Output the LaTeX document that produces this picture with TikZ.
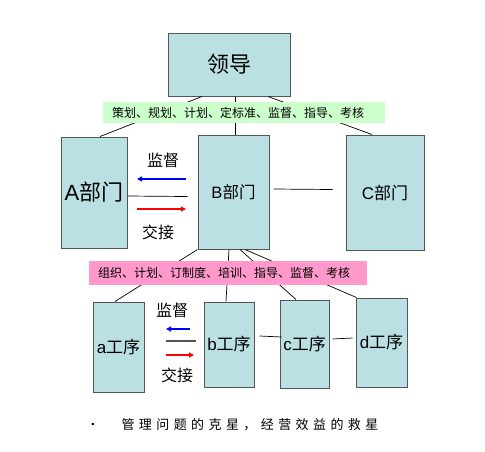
\documentclass[tikz,border=0pt]{standalone}
\usepackage{fontspec}
\setmainfont{Liberation Sans}
\newfontfamily\cjk{Noto Sans CJK SC}
\newfontfamily\cjkwide[LetterSpace=34]{Noto Sans CJK SC}
\usetikzlibrary{arrows.meta}
\definecolor{boxfill}{RGB}{187,224,227}
\definecolor{boxline}{RGB}{85,85,85}
\definecolor{greenband}{RGB}{204,255,204}
\definecolor{pinkband}{RGB}{255,153,204}
\newcommand{\fs}[1]{\fontsize{#1}{#1}\selectfont}

\begin{document}
\begin{tikzpicture}[x=1pt,y=-1pt,
  box/.style={draw=boxline,line width=1pt,fill=boxfill,inner sep=0pt},
  band/.style={inner sep=0pt,font=\cjk\fs{12}},
  link/.style={line width=0.7pt},
  flow/.style={line width=1.4pt,-{Triangle[length=5pt,width=5pt]}},
  tag/.style={font=\cjk\fs{16}}]
\useasboundingbox (0,0) rectangle (485,451);

% boxes
\node[box,minimum width=122pt,minimum height=63pt,font=\cjk\fs{22}] (lead) at (229,64.5) {领导};
\node[box,minimum width=66pt,minimum height=111pt,font=\fs{22}] (A) at (94,192.5) {A\cjk 部门};
\node[box,minimum width=71pt,minimum height=114pt,font=\fs{16.5}] (B) at (233.5,192) {B\cjk 部门};
\node[box,minimum width=78pt,minimum height=115pt,font=\fs{17}] (C) at (385,192.5) {C\cjk 部门};
\node[box,minimum width=51pt,minimum height=90pt,font=\fs{17}] (a) at (118.5,347) {a\cjk 工序};
\node[box,minimum width=50pt,minimum height=85pt,font=\fs{17}] (b) at (229,344.5) {b\cjk 工序};
\node[box,minimum width=49pt,minimum height=88pt,font=\fs{17}] (c) at (304.5,344) {c\cjk 工序};
\node[box,minimum width=51pt,minimum height=89pt,font=\fs{17}] (d) at (381.5,342.5) {d\cjk 工序};

% connectors
\draw[link] ([xshift=-27pt]lead.south) -- ([xshift=6pt]A.north);
\draw[link] ([xshift=6pt]lead.south) -- ([xshift=1.5pt]B.north);
\draw[link] ([xshift=39pt]lead.south) -- ([xshift=-13pt]C.north);
\draw[link] ([xshift=4pt,yshift=3pt]B.east) -- ([xshift=-13pt,yshift=3pt]C.west);
\draw[link] ([yshift=-3.5pt]A.east) -- ([xshift=-10pt,yshift=-4.5pt]B.west);
\draw[link] (B.south west) -- ([xshift=-3.5pt]a.north);
\draw[link] ([xshift=-4.5pt]B.south) -- ([xshift=-3pt]b.north);
\draw[link] ([xshift=6.5pt]B.south) -- ([xshift=-8.5pt]c.north);
\draw[link] ([xshift=11.5pt]B.south) -- ([xshift=1pt]d.north west);
\draw[link] ([xshift=5pt,yshift=8.5pt]b.east) -- ([xshift=2pt,yshift=7pt]c.west);
\draw[link] ([xshift=3pt,yshift=5pt]c.east) -- ([xshift=-3pt,yshift=4.5pt]d.west);
\draw[line width=1.4pt,boxline] (166,341) coordinate (ablft) -- (196,341) coordinate (abrgt);

% handover arrows
\coordinate (ABtop) at (186,179);
\coordinate (ABbot) at (137,209);
\draw[flow,blue] (ABtop) -- (ABtop -| ABbot);
\draw[flow,red] (ABbot) -- (ABbot -| ABtop);
\node[tag] (ABsup) at (163,160) {监督};
\node[tag] (ABgive) at (158,232) {交接};
\coordinate (abtop) at (190,329);
\coordinate (abbot) at (166,355);
\draw[flow,blue] (abtop) -- (166,329);
\draw[flow,red] (abbot) -- (194,355);
\node[tag] (absup) at (172,310) {监督};
\node[tag] (abgive) at (177,375) {交接};

% bands
\node[band,fill=greenband,minimum width=282pt,minimum height=21pt] (duty1) at (244,112.5) {\hspace{-12pt}策划、规划、计划、定标准、监督、指导、考核};
\node[band,fill=pinkband,minimum width=278pt,minimum height=24pt] (duty2) at (228,273) {\hspace{-8pt}组织、计划、订制度、培训、指导、监督、考核};

% slogan
\node[font=\fs{9}] (dot) at (93,425) {•};
\node[anchor=west,font=\cjkwide\fs{13}] (slogan) at (118,425) {管理问题的克星，经营效益的救星};
\end{tikzpicture}
\end{document}
